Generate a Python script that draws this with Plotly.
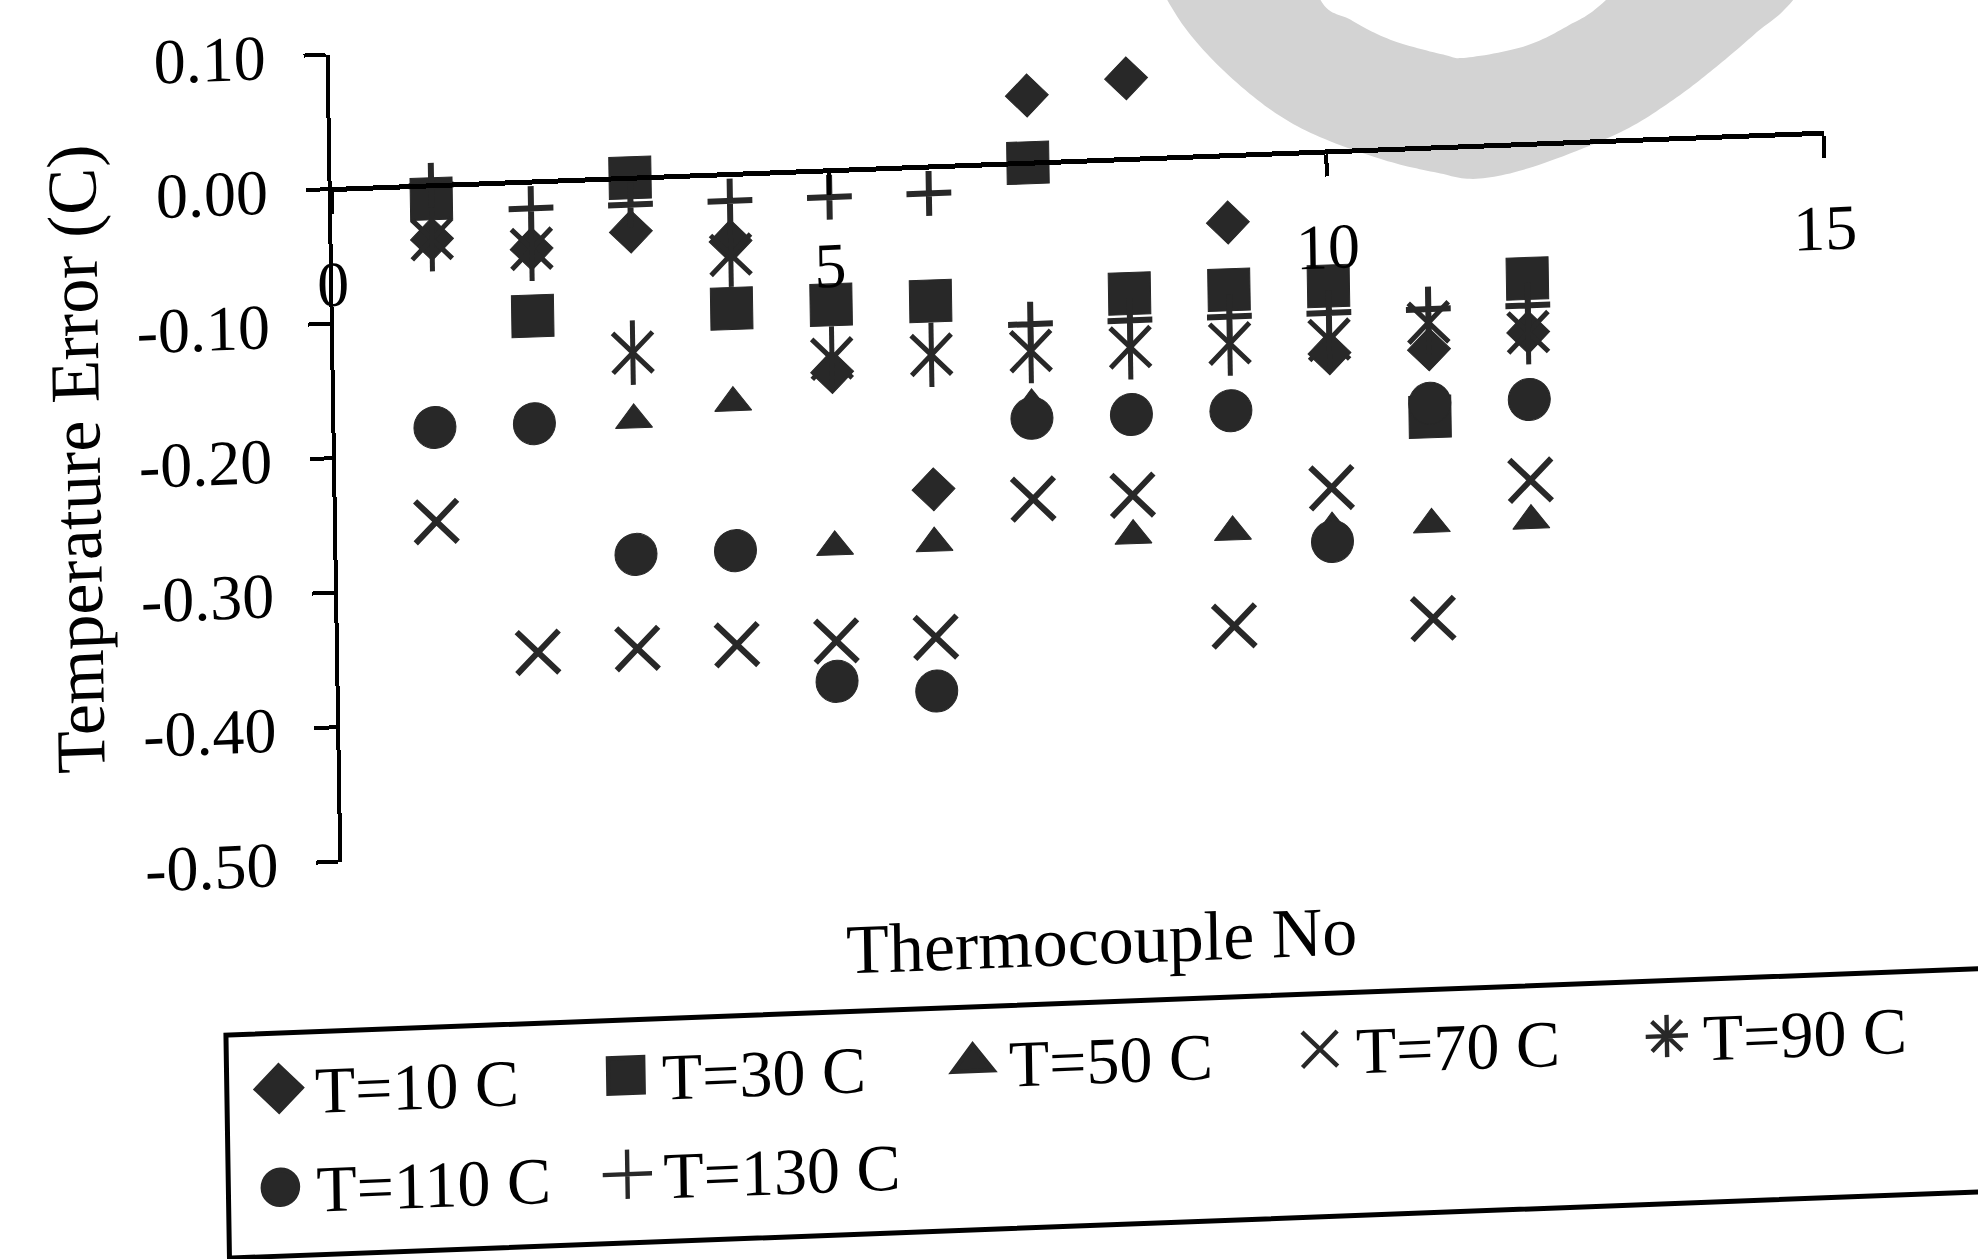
import plotly.graph_objects as go

# Thermocouple numbers along the rod
THERMOCOUPLE = list(range(1, 13))

# Temperature error (C) of each thermocouple at each bath temperature
ERR_T10 = [-0.04, -0.05, -0.04, -0.05, -0.15, -0.24, 0.05, 0.06, -0.05, -0.15, -0.15, -0.14]
ERR_T30 = [-0.01, -0.10, 0.00, -0.10, -0.10, -0.10, 0.00, -0.10, -0.10, -0.10, -0.20, -0.10]
ERR_T50 = [-0.18, -0.18, -0.18, -0.17, -0.28, -0.28, -0.18, -0.28, -0.28, -0.28, -0.28, -0.28]
ERR_T70 = [-0.25, -0.35, -0.35, -0.35, -0.35, -0.35, -0.25, -0.25, -0.35, -0.25, -0.35, -0.25]
ERR_T90 = [-0.04, -0.05, -0.13, -0.06, -0.14, -0.14, -0.14, -0.14, -0.14, -0.14, -0.13, -0.14]
ERR_T110 = [-0.18, -0.18, -0.28, -0.28, -0.38, -0.39, -0.19, -0.19, -0.19, -0.29, -0.19, -0.19]
ERR_T130 = [0.00, -0.02, -0.02, -0.02, -0.02, -0.02, -0.12, -0.12, -0.12, -0.12, -0.12, -0.12]

SERIES_NAMES = ["T=10 C", "T=30 C", "T=50 C", "T=70 C", "T=90 C", "T=110 C", "T=130 C"]
SERIES_VALUES = [ERR_T10, ERR_T30, ERR_T50, ERR_T70, ERR_T90, ERR_T110, ERR_T130]

X_TICKS = [0, 5, 10, 15]
X_TICK_LABELS = ["0", "5", "10", "15"]
Y_TICKS = [0.10, 0.00, -0.10, -0.20, -0.30, -0.40, -0.50]
Y_TICK_LABELS = ["0.10", "0.00", "-0.10", "-0.20", "-0.30", "-0.40", "-0.50"]

INK = "#282828"
FONT = "Liberation Serif"

# marker look per series: list of (symbol, size, outline width) drawn on top of
# each other, plus the symbol shown in the legend
STYLES = [
    ([("diamond", 33, 1)], "diamond"),
    ([("square", 42, 1)], "square"),
    ([("triangle-up", 32, 1)], "triangle-up"),
    ([("x-thin-open", 42, 6)], "x-thin-open"),
    ([("x-thin-open", 40, 5), ("line-ns-open", 46, 5)], "asterisk-open"),
    ([("circle", 42, 1)], "circle"),
    ([("cross-thin-open", 32, 6)], "cross-thin-open"),
]

fig = go.Figure()
for name, vals, (layers, legend_sym) in zip(SERIES_NAMES, SERIES_VALUES, STYLES):
    # legend entry (no points of its own)
    fig.add_trace(go.Scatter(
        x=[None], y=[None], name=name, mode="markers", legendgroup=name,
        marker=dict(symbol=legend_sym, size=16, color=INK,
                    line=dict(color=INK, width=2)),
    ))
    for sym, size, lw in layers:
        fig.add_trace(go.Scatter(
            x=THERMOCOUPLE, y=vals, name=name, mode="markers",
            legendgroup=name, showlegend=False,
            marker=dict(symbol=sym, size=size, color=INK,
                        line=dict(color=INK, width=lw)),
        ))

# page and plot-area geometry (px)
W, H = 1978, 1259
L, R, T, B = 339, 147, 30, 422
PW, PH = W - L - R, H - T - B
TILT_X, TILT_Y = 0.0158, 0.0378   # shear of the whole sheet


def to_paper(px, py):
    return (px - L) / PW, (H - B - py) / PH


def untilt(x, y):
    """Map a page pixel back to the un-tilted sheet."""
    dx, dy = x - W / 2, y - H / 2
    return W / 2 + dx - TILT_X * dy, H / 2 + TILT_Y * dx + dy


def smooth(points, n=14):
    """Catmull-Rom sampling through the given pixel points."""
    out = []
    pts = [points[0]] + points + [points[-1]]
    for i in range(1, len(pts) - 2):
        p0, p1, p2, p3 = pts[i - 1], pts[i], pts[i + 1], pts[i + 2]
        for k in range(n):
            t = k / n
            t2, t3 = t * t, t * t * t
            x = 0.5 * ((2 * p1[0]) + (-p0[0] + p2[0]) * t
                       + (2 * p0[0] - 5 * p1[0] + 4 * p2[0] - p3[0]) * t2
                       + (-p0[0] + 3 * p1[0] - 3 * p2[0] + p3[0]) * t3)
            y = 0.5 * ((2 * p1[1]) + (-p0[1] + p2[1]) * t
                       + (2 * p0[1] - 5 * p1[1] + 4 * p2[1] - p3[1]) * t2
                       + (-p0[1] + 3 * p1[1] - 3 * p2[1] + p3[1]) * t3)
            out.append((x, y))
    out.append(points[-1])
    return out


# light grey ring segment in the upper right (page pixels)
outer = [(1130, -80), (1167, 0), (1203, 50), (1257, 100), (1310, 133),
         (1383, 160), (1437, 173), (1476, 179), (1533, 167), (1619, 133),
         (1673, 100), (1716, 67), (1756, 33), (1793, 0), (1850, -80)]
inner = [(1680, -80), (1606, 0), (1566, 27), (1523, 47), (1466, 58),
         (1443, 55), (1390, 40), (1350, 20), (1320, 0), (1290, -80)]
ring = [untilt(x, y) for x, y in smooth(outer) + smooth(inner)]
path = "M " + " L ".join("%.4f,%.4f" % to_paper(x, y) for x, y in ring) + " Z"

shapes = [
    dict(type="path", xref="paper", yref="paper", path=path,
         fillcolor="#d3d3d3", line=dict(width=0), layer="below"),
]
# legend frame
lx0, ly0 = to_paper(220, 1229)
lx1, ly1 = to_paper(2010, 1006)
shapes.append(dict(type="rect", xref="paper", yref="paper",
                   x0=lx0, y0=ly0, x1=lx1, y1=ly1,
                   line=dict(color="black", width=5), fillcolor="rgba(0,0,0,0)"))

ytx, yty = to_paper(79, 425)
xtx, xty = to_paper(1096, 944)
annotations = [
    dict(text="Temperature Error (C)", xref="paper", yref="paper", x=ytx, y=yty,
         textangle=-90, showarrow=False, xanchor="center", yanchor="middle",
         font=dict(family=FONT, size=70, color="black")),
    dict(text="Thermocouple No", xref="paper", yref="paper", x=xtx, y=xty,
         showarrow=False, xanchor="center", yanchor="middle",
         font=dict(family=FONT, size=70, color="black")),
]

legx, legy = to_paper(236, 1012)

fig.update_layout(
    width=W, height=H,
    margin=dict(l=L, r=R, t=T, b=B, autoexpand=False),
    paper_bgcolor="white", plot_bgcolor="white",
    font=dict(family=FONT, color="black"),
    shapes=shapes, annotations=annotations,
    showlegend=True,
    legend=dict(orientation="h", x=legx, y=legy, xanchor="left", yanchor="top",
                font=dict(family=FONT, size=66, color="black"),
                bgcolor="rgba(0,0,0,0)", borderwidth=0,
                itemwidth=62, entrywidth=270, entrywidthmode="pixels"),
    xaxis=dict(range=[0, 15], anchor="free", position=0.5 / 0.6,
               showline=True, linecolor="black", linewidth=5,
               ticks="outside", ticklen=22, tickwidth=4, tickcolor="black",
               tickvals=X_TICKS, ticktext=X_TICK_LABELS,
               ticklabelstandoff=15, ticklabeloverflow="allow",
               tickfont=dict(family=FONT, size=64, color="black"),
               showgrid=False, zeroline=False),
    yaxis=dict(range=[-0.5, 0.1], anchor="x",
               showline=True, linecolor="black", linewidth=4,
               ticks="outside", ticklen=22, tickwidth=4, tickcolor="black",
               tickvals=Y_TICKS, ticktext=Y_TICK_LABELS,
               ticklabelstandoff=25, ticklabeloverflow="allow",
               tickfont=dict(family=FONT, size=64, color="black"),
               showgrid=False, zeroline=False),
)

# slight tilt of the whole sheet, and larger legend symbols
matrix = "matrix(1, -{}, {}, 1, 0, 0)".format(TILT_Y, TILT_X)
post = (
    "var gd = document.getElementById('{plot_id}');"
    "gd.style.transformOrigin = 'center center';"
    "gd.style.transform = '" + matrix + "';"
    "try {"
    "  gd.querySelectorAll('.legendpoints path').forEach(function (p) {"
    "    var t = p.getAttribute('transform') || '';"
    "    p.setAttribute('transform', t + ' scale(2.2)');"
    "  });"
    "} catch (e) {}"
)

fig.write_html("out.html", post_script=post)
